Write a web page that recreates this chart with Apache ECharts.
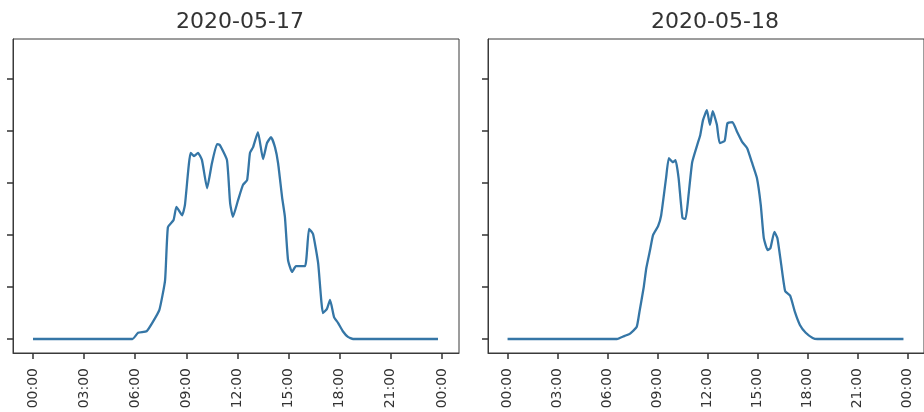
<!DOCTYPE html>
<html>
<head>
<meta charset="utf-8">
<script src="https://cdn.jsdelivr.net/npm/echarts@6/dist/echarts.min.js"></script>
<style>
html,body{margin:0;padding:0;background:#fff;}
#chart{width:924px;height:412px;}
</style>
</head>
<body>
<div id="chart"></div>
<script>
// Panel titles
const titles = ["2020-05-17", "2020-05-18"];

// Day 1 (2020-05-17): time of day and value
const day1Times = ["00:00","05:50","06:10","06:40","07:00","07:25","07:45","07:55","08:15","08:25","08:45","08:55","09:15","09:27","09:41","09:55","10:13","10:30","10:48","10:58","11:23","11:34","11:44","12:02","12:19","12:34","12:44","12:55","13:12","13:30","13:44","13:58","14:12","14:23","14:37","14:47","14:58","15:12","15:26","15:58","16:12","16:26","16:44","17:01","17:15","17:26","17:40","17:54","18:11","18:29","18:47","23:46"];
const day1Values = [0,0,0.12,0.15,0.31,0.56,1.13,2.15,2.29,2.54,2.38,2.58,3.58,3.52,3.58,3.44,2.90,3.38,3.75,3.73,3.44,2.62,2.35,2.67,2.96,3.06,3.58,3.69,3.98,3.46,3.77,3.88,3.69,3.38,2.73,2.35,1.52,1.29,1.40,1.40,2.12,2.02,1.46,0.50,0.58,0.75,0.42,0.31,0.15,0.04,0,0];

// Day 2 (2020-05-18)
const day2Times = ["00:00","06:34","07:02","07:20","07:45","07:55","08:10","08:20","08:34","08:44","09:02","09:13","09:31","09:41","09:55","10:05","10:16","10:30","10:41","10:52","11:05","11:23","11:34","11:44","11:58","12:09","12:19","12:34","12:44","13:02","13:12","13:30","13:47","14:05","14:23","14:40","14:58","15:12","15:23","15:37","15:47","16:01","16:12","16:26","16:40","16:58","17:15","17:33","17:54","18:19","18:36","23:46"];
const day2Values = [0,0,0.06,0.10,0.23,0.52,0.98,1.37,1.73,2.00,2.17,2.37,3.10,3.48,3.40,3.44,3.10,2.33,2.31,2.77,3.40,3.73,3.92,4.21,4.40,4.12,4.38,4.12,3.77,3.81,4.15,4.17,3.98,3.79,3.67,3.40,3.10,2.58,1.94,1.71,1.75,2.06,1.94,1.42,0.92,0.83,0.52,0.27,0.12,0.02,0,0];

// Axis ticks
const xTickHours = [0,3,6,9,12,15,18,21,24];
const yTickValues = [0,1,2,3,4,5];

function toHours(t){ const p=t.split(':'); return (+p[0]) + (+p[1])/60; }
function pair(times, vals){ return times.map((t,i)=>[toHours(t), vals[i]]); }
function pad(n){ return (n<10?'0':'')+n; }

const X_MIN = -1.174, X_MAX = 25.0;
const Y_MIN = -0.269, Y_MAX = 5.77;
const ink = '#333333';
const lineColor = '#3576a6';

const grids = [
  {left:13, top:39, width:446, height:314, show:true, borderColor:'#3a3a3a', borderWidth:1, backgroundColor:'transparent'},
  {left:488, top:39, width:446, height:314, show:true, borderColor:'#3a3a3a', borderWidth:1, backgroundColor:'transparent'}
];

function xAxis(gi){
  return {
    type:'value', gridIndex:gi, min:X_MIN, max:X_MAX, position:'bottom',
    axisLine:{show:true, onZero:false, lineStyle:{color:'#3a3a3a', width:1}},
    splitLine:{show:false},
    axisTick:{show:true, customValues:xTickHours, length:6, lineStyle:{color:ink, width:1.5}},
    axisLabel:{show:true, customValues:xTickHours, rotate:90, margin:15,
      fontFamily:'DejaVu Sans', fontSize:14, color:ink,
      formatter:v=>pad(Math.round(v)%24)+':00'}
  };
}
function yAxis(gi){
  return {
    type:'value', gridIndex:gi, min:Y_MIN, max:Y_MAX, position:'left',
    axisLine:{show:true, onZero:false, lineStyle:{color:'#3a3a3a', width:1}},
    splitLine:{show:false},
    axisTick:{show:true, customValues:yTickValues, length:6, lineStyle:{color:ink, width:1.5}},
    axisLabel:{show:false}
  };
}

const chart = echarts.init(document.getElementById('chart'), null, {renderer:'canvas'});
chart.setOption({
  animation:false,
  backgroundColor:'#ffffff',
  title: [
    {text:titles[0], left:235, top:6, textAlign:'center', textStyle:{fontFamily:'DejaVu Sans', fontSize:22, fontWeight:'normal', color:ink}},
    {text:titles[1], left:710, top:6, textAlign:'center', textStyle:{fontFamily:'DejaVu Sans', fontSize:22, fontWeight:'normal', color:ink}}
  ],
  grid: grids,
  xAxis:[xAxis(0), xAxis(1)],
  yAxis:[yAxis(0), yAxis(1)],
  series:[
    {type:'line', xAxisIndex:0, yAxisIndex:0, data:pair(day1Times, day1Values), showSymbol:false, smooth:0.15,
      lineStyle:{color:lineColor, width:2.3, join:'round'}},
    {type:'line', xAxisIndex:1, yAxisIndex:1, data:pair(day2Times, day2Values), showSymbol:false, smooth:0.15,
      lineStyle:{color:lineColor, width:2.3, join:'round'}}
  ]
});
</script>
</body>
</html>
